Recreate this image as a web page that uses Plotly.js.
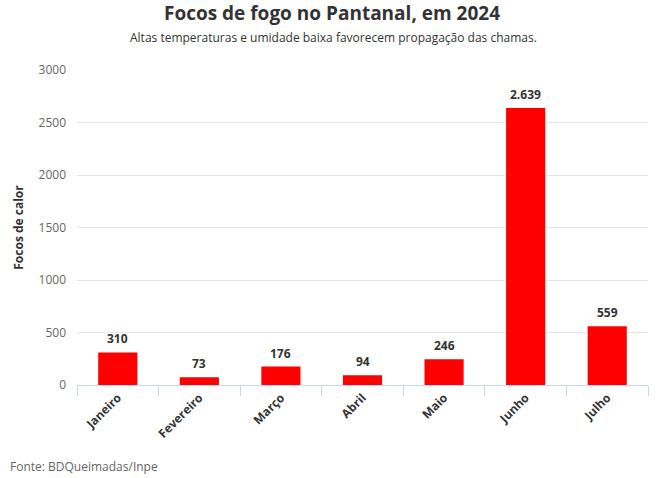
<!DOCTYPE html>
<html><head><meta charset="utf-8">
<script src="https://cdn.plot.ly/plotly-3.0.1.min.js"></script>
<style>html,body{margin:0;padding:0;background:#fff;}#chart{width:664px;height:478px;}</style>
</head><body><div id="chart"></div>
<script>
const months = ["Janeiro","Fevereiro","Março","Abril","Maio","Junho","Julho"];
const focos = [310, 73, 176, 94, 246, 2639, 559];
const yTicks = [0, 500, 1000, 1500, 2000, 2500, 3000];

function ptBR(v){ return v.toString().replace(/\B(?=(\d{3})+(?!\d))/g, "."); }

const font = "'Open Sans', sans-serif";
const trace = {
  type: "bar", x: months, y: focos,
  marker: {color: "#ff0000"},
  hoverinfo: "x+y"
};
const annotations = months.map((m, i) => ({
  x: m, y: focos[i], xref: "x", yref: "y",
  text: "<b>" + ptBR(focos[i]) + "</b>", showarrow: false,
  yanchor: "bottom", yshift: 3,
  font: {family: font, size: 12, color: "#333333"}
}));
annotations.push({
  text: "Altas temperaturas e umidade baixa favorecem propagação das chamas.",
  xref: "paper", yref: "paper", x: 0.5, xanchor: "center", xshift: -29,
  y: 1, yanchor: "bottom", yshift: 22, showarrow: false,
  font: {family: font, size: 12, color: "#333333"}
});
annotations.push({
  text: "Fonte: BDQueimadas/Inpe", xref: "paper", yref: "paper",
  x: 0, xshift: -69, xanchor: "left", y: 0, yanchor: "middle", yshift: -81,
  showarrow: false, font: {family: font, size: 12, color: "#666666"}
});

const layout = {
  width: 664, height: 478,
  margin: {l: 77, r: 16, t: 70, b: 93},
  paper_bgcolor: "#ffffff", plot_bgcolor: "#ffffff",
  title: {text: "<b>Focos de fogo no Pantanal, em 2024</b>", x: 0.5, xanchor: "center",
          y: 0.972, yanchor: "middle",
          font: {family: font, size: 19, color: "#333333"}},
  bargap: 0.52,
  showlegend: false,
  xaxis: {
    type: "category", tickangle: -45, tickson: "boundaries",
    ticks: "outside", ticklen: 10, tickcolor: "#ccd6eb",
    showline: true, linecolor: "#ccd6eb", showgrid: false,
    tickfont: {family: font, size: 12, color: "#333333", weight: "bold"},
    fixedrange: true
  },
  yaxis: {
    range: [0, 3000], tickvals: yTicks, ticktext: yTicks.map(String),
    showgrid: true, gridcolor: "#e6e6e6", zeroline: false,
    tickfont: {family: font, size: 12, color: "#666666"},
    ticklabelstandoff: 10,
    title: {text: "<b>Focos de calor</b>", standoff: 12,
            font: {family: font, size: 12, color: "#333333"}},
    fixedrange: true
  },
  annotations: annotations
};
Plotly.newPlot("chart", [trace], layout, {displayModeBar: false, staticPlot: true});
</script></body></html>
